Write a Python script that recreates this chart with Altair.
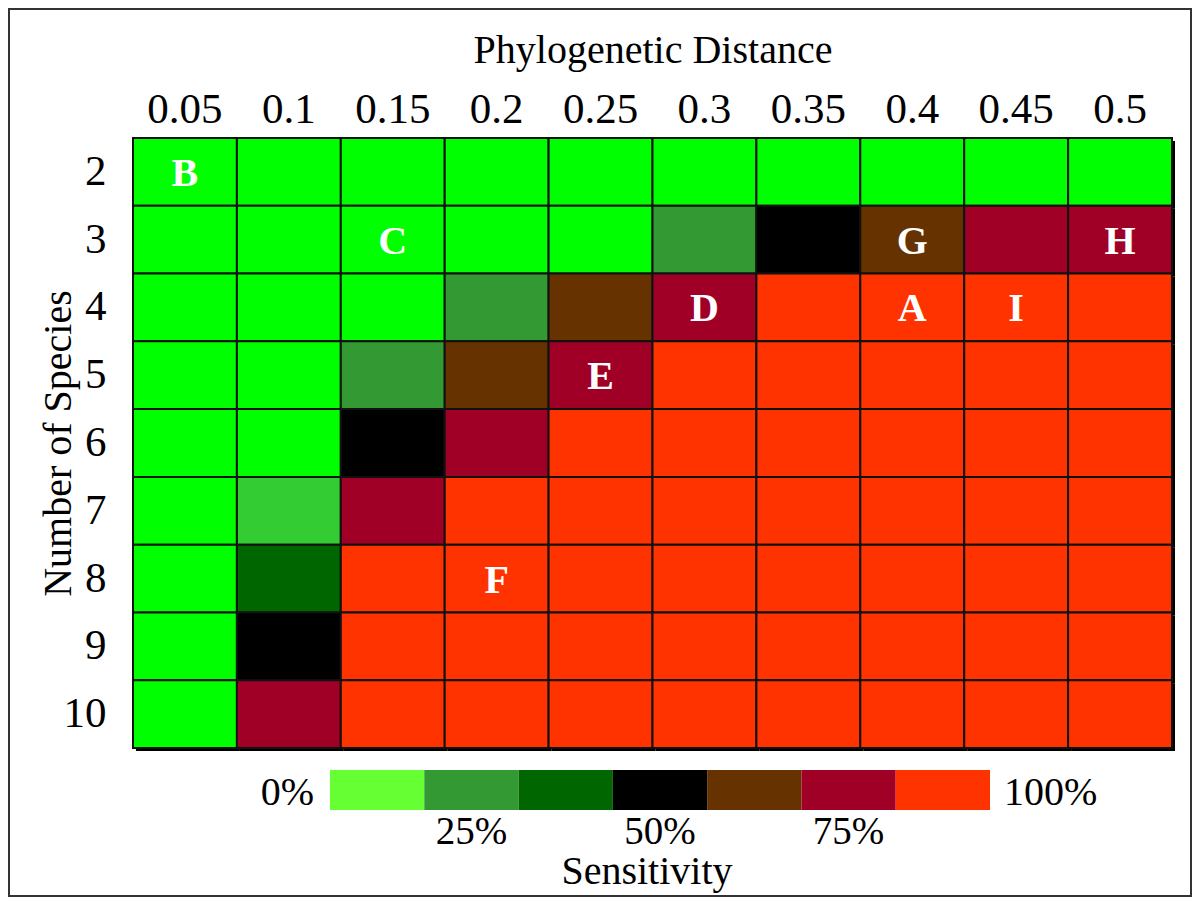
import altair as alt
import pandas as pd

# ---- data ----
distances = ["0.05", "0.1", "0.15", "0.2", "0.25", "0.3", "0.35", "0.4", "0.45", "0.5"]
species = [2, 3, 4, 5, 6, 7, 8, 9, 10]

# sensitivity class of each cell (rows = number of species, cols = distance)
levels = [
    [0, 0, 0, 0, 0, 0, 0, 0, 0, 0],
    [0, 0, 0, 0, 0, 2, 4, 5, 6, 6],
    [0, 0, 0, 2, 5, 6, 7, 7, 7, 7],
    [0, 0, 2, 5, 6, 7, 7, 7, 7, 7],
    [0, 0, 4, 6, 7, 7, 7, 7, 7, 7],
    [0, 1, 6, 7, 7, 7, 7, 7, 7, 7],
    [0, 3, 7, 7, 7, 7, 7, 7, 7, 7],
    [0, 4, 7, 7, 7, 7, 7, 7, 7, 7],
    [0, 6, 7, 7, 7, 7, 7, 7, 7, 7],
]
level_codes = [0, 1, 2, 3, 4, 5, 6, 7]
level_colors = ["#00FF00", "#33CC33", "#339933", "#006600",
                "#000000", "#663300", "#A00026", "#FF3300"]

letters = ["B", "C", "G", "H", "D", "A", "I", "E", "F"]
letter_dist = ["0.05", "0.15", "0.4", "0.5", "0.3", "0.4", "0.45", "0.25", "0.2"]
letter_species = [2, 3, 3, 3, 4, 4, 4, 5, 8]

legend_colors = ["#66FF33", "#339933", "#006600", "#000000",
                 "#663300", "#A00026", "#FF3300"]
legend_end_labels = ["0%", "100%"]
legend_mid_labels = ["25%", "50%", "75%"]

# ---- tables ----
cells = pd.DataFrame(
    [{"dist": d, "species": s, "level": levels[i][j]}
     for i, s in enumerate(species) for j, d in enumerate(distances)]
)
marks = pd.DataFrame({"dist": letter_dist, "species": letter_species, "letter": letters})
seg = pd.DataFrame({"seg": list(range(len(legend_colors))), "color": legend_colors})
seg["seg_end"] = seg["seg"] + 1
end_lab = pd.DataFrame({"label": legend_end_labels, "pos": [0, len(legend_colors)]})
mid_lab = pd.DataFrame({"label": legend_mid_labels, "pos": [1.5, 3.5, 5.5]})

FONT = "Liberation Serif"
W, H = 1039, 610

x_enc = alt.X(
    "dist:O", sort=distances,
    scale=alt.Scale(domain=distances, paddingInner=0, paddingOuter=0),
    axis=alt.Axis(orient="top", title="Phylogenetic Distance", labelAngle=0,
                  domain=False, ticks=False, labelFont=FONT, labelFontSize=43,
                  labelColor="black", labelBaseline="alphabetic", labelPadding=16,
                  titleFont=FONT, titleFontSize=40, titleFontWeight="normal",
                  titleColor="black", titleY=-76, titleBaseline="alphabetic"),
)
y_enc = alt.Y(
    "species:O",
    scale=alt.Scale(domain=species, paddingInner=0, paddingOuter=0),
    axis=alt.Axis(orient="left", title="Number of Species", domain=False, ticks=False,
                  labelFont=FONT, labelFontSize=43, labelColor="black",
                  labelPadding=27, labelBaseline="middle",
                  titleFont=FONT, titleFontSize=40, titleFontWeight="normal",
                  titleColor="black", titleAngle=270, titleX=-63, titleY=H / 2,
                  titleBaseline="alphabetic"),
)

shadow = alt.Chart(cells).mark_rect(color="black", xOffset=3, yOffset=3).encode(x=x_enc, y=y_enc)
heat = alt.Chart(cells).mark_rect(stroke="#111111", strokeWidth=2).encode(
    x=x_enc, y=y_enc,
    color=alt.Color("level:N", scale=alt.Scale(domain=level_codes, range=level_colors), legend=None),
)
text = alt.Chart(marks).mark_text(
    font=FONT, fontSize=40, fontWeight="bold", color="white", baseline="middle", dy=2
).encode(x=x_enc, y=y_enc, text="letter:N")

heat_layer = alt.layer(shadow, heat, text)

lx = alt.Scale(domain=[0, len(legend_colors)], range=[197, 857])
leg_bar = alt.Chart(seg).mark_rect().encode(
    x=alt.X("seg:Q", scale=lx, axis=None), x2="seg_end:Q",
    y=alt.value(632), y2=alt.value(672),
    color=alt.Color("color:N", scale=None),
)
leg_0 = alt.Chart(end_lab.iloc[[0]]).mark_text(
    font=FONT, fontSize=40, align="right", baseline="alphabetic", dx=-16, color="black"
).encode(x=alt.X("pos:Q", scale=lx, axis=None), y=alt.value(667), text="label:N")
leg_100 = alt.Chart(end_lab.iloc[[1]]).mark_text(
    font=FONT, fontSize=40, align="left", baseline="alphabetic", dx=14, color="black"
).encode(x=alt.X("pos:Q", scale=lx, axis=None), y=alt.value(667), text="label:N")
leg_mid = alt.Chart(mid_lab).mark_text(
    font=FONT, fontSize=39, align="center", baseline="alphabetic", color="black"
).encode(x=alt.X("pos:Q", scale=lx, axis=None), y=alt.value(706), text="label:N")
leg_title = alt.Chart(pd.DataFrame({"t": ["Sensitivity"]})).mark_text(
    font=FONT, fontSize=40, align="center", baseline="alphabetic", color="black"
).encode(x=alt.value(514), y=alt.value(746), text="t:N")

frame = alt.Chart(pd.DataFrame({"f": [0]})).mark_rect(
    fill=None, stroke="#333333", strokeWidth=2
).encode(x=alt.value(-124), x2=alt.value(1058), y=alt.value(-129), y2=alt.value(758))

legend_layer = alt.layer(leg_bar, leg_0, leg_100, leg_mid, leg_title, frame)

chart = alt.layer(heat_layer, legend_layer).resolve_scale(
    x="independent", color="independent"
).properties(
    width=W, height=H,
    autosize=alt.AutoSizeParams(type="none"),
    padding={"left": 125, "top": 130, "right": 20, "bottom": 150},
    background="white",
).configure_view(stroke=None)

chart.save("out.html", embed_options={"renderer": "svg", "actions": False})
